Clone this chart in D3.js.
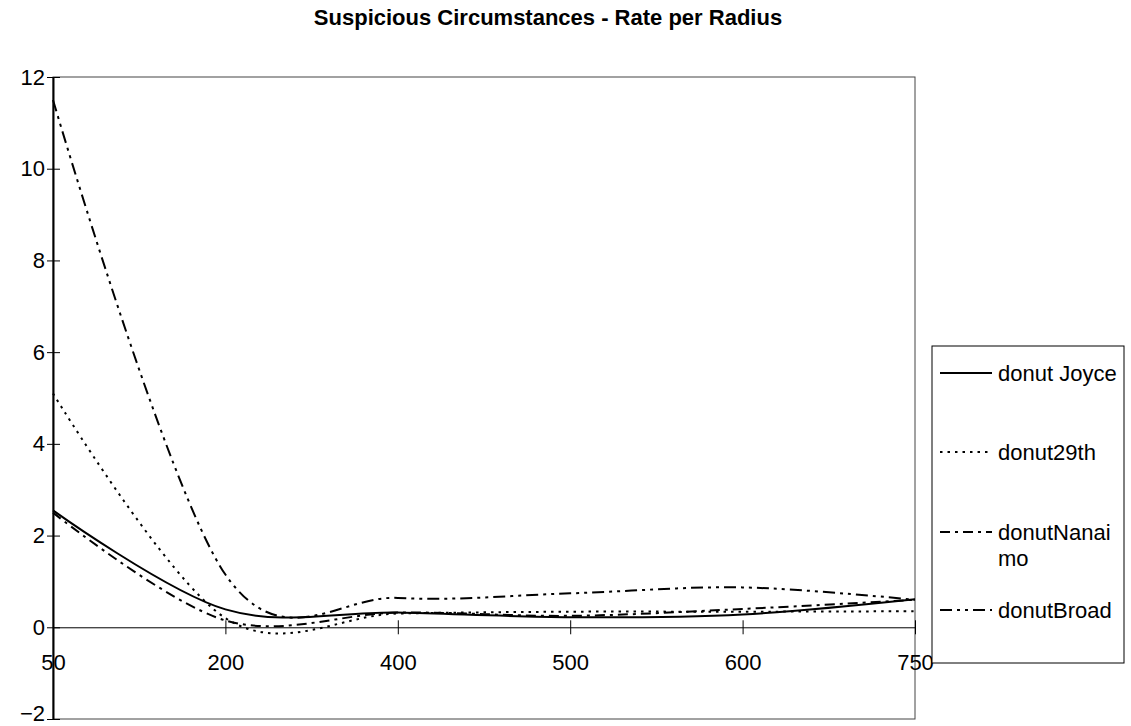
<!DOCTYPE html>
<html>
<head>
<meta charset="utf-8">
<script src="https://cdn.jsdelivr.net/npm/d3@7"></script>
<style>
  body { margin: 0; background: #fff; }
  svg { font-family: "Liberation Sans", Arial, Helvetica, sans-serif; }
</style>
</head>
<body>
<svg id="chart"></svg>
<script>
// radius categories (equally spaced on the axis)
var radii = ["50", "200", "400", "500", "600", "750"];

var joyce   = [2.55, 0.39, 0.32, 0.22, 0.28, 0.61];
var d29th   = [5.1, 0.2, 0.3, 0.34, 0.34, 0.35];
var nanaimo = [2.5, 0.15, 0.32, 0.25, 0.4, 0.6];
var broad   = [11.5, 1.15, 0.64, 0.74, 0.87, 0.6];

var seriesNames = ["donut Joyce", "donut29th", "donutNanaimo", "donutBroad"];
var yTicks = [-2, 0, 2, 4, 6, 8, 10, 12];

var width = 1131, height = 726;
var plot = {left: 53, right: 915, top: 77, bottom: 719};

var svg = d3.select("#chart")
    .attr("width", width)
    .attr("height", height);

var xScale = d3.scalePoint()
    .domain(radii)
    .range([plot.left, plot.right]);

var yScale = d3.scaleLinear()
    .domain([-2, 12])
    .range([plot.bottom, plot.top]);

// title
svg.append("text")
    .attr("x", 548)
    .attr("y", 25)
    .attr("text-anchor", "middle")
    .style("font-size", "22px")
    .style("font-weight", "bold")
    .text("Suspicious Circumstances - Rate per Radius");

// plot border
svg.append("rect")
    .attr("x", plot.left)
    .attr("y", plot.top)
    .attr("width", plot.right - plot.left)
    .attr("height", plot.bottom - plot.top)
    .attr("fill", "none")
    .attr("stroke", "#444")
    .attr("stroke-width", 1);

// y axis
var yAxis = svg.append("g")
    .attr("transform", "translate(" + plot.left + ",0)")
    .call(d3.axisLeft(yScale).tickValues(yTicks).tickSizeInner(6).tickSizeOuter(0).tickPadding(2));
yAxis.select(".domain").attr("stroke", "#000").attr("stroke-width", 2);
yAxis.selectAll(".tick line").attr("x1", 7).attr("stroke", "#000");
yAxis.selectAll(".tick text")
    .style("font-size", "22px")
    .attr("fill", "#000")
    .attr("font-family", "Liberation Sans, Arial, sans-serif")
    .attr("dy", function (d) { return d === -2 ? "0.05em" : "0.32em"; });

// x axis at y = 0
var xAxis = svg.append("g")
    .attr("transform", "translate(0," + yScale(0) + ")")
    .call(d3.axisBottom(xScale).tickSizeInner(7).tickSizeOuter(0).tickPadding(20));
xAxis.select(".domain").attr("stroke", "#000").attr("stroke-width", 1);
xAxis.selectAll(".tick line").attr("y1", -7).attr("stroke", "#000");
xAxis.selectAll(".tick text")
    .style("font-size", "22px")
    .attr("fill", "#000")
    .attr("font-family", "Liberation Sans, Arial, sans-serif");

// series
var dashes = ["none", "2.5,5", "10,5,3,5", "12,5,3,5,3,5"];
var allSeries = [joyce, d29th, nanaimo, broad];

var line = d3.line()
    .x(function (d, i) { return xScale(radii[i]); })
    .y(function (d) { return yScale(d); })
    .curve(d3.curveCardinal.tension(0));

svg.selectAll(".series")
    .data(allSeries)
    .enter().append("path")
    .attr("class", "series")
    .attr("d", line)
    .attr("fill", "none")
    .attr("stroke", "#000")
    .attr("stroke-width", 2)
    .attr("stroke-dasharray", function (d, i) { return dashes[i]; });

// legend
var legend = svg.append("g");
legend.append("rect")
    .attr("x", 932)
    .attr("y", 346)
    .attr("width", 192)
    .attr("height", 317)
    .attr("fill", "#fff")
    .attr("stroke", "#000")
    .attr("stroke-width", 1);

var legendY = [373, 452, 532, 610];
seriesNames.forEach(function (name, i) {
    legend.append("line")
        .attr("x1", 940)
        .attr("x2", 992)
        .attr("y1", legendY[i])
        .attr("y2", legendY[i])
        .attr("stroke", "#000")
        .attr("stroke-width", 2)
        .attr("stroke-dasharray", dashes[i]);
    var t = legend.append("text")
        .attr("x", 998)
        .attr("y", legendY[i])
        .attr("dy", "0.35em")
        .style("font-size", "22px");
    if (name === "donutNanaimo") {
        t.append("tspan").attr("x", 998).text("donutNanai");
        t.append("tspan").attr("x", 998).attr("dy", "26").text("mo");
    } else {
        t.text(name);
    }
});
</script>
</body>
</html>
